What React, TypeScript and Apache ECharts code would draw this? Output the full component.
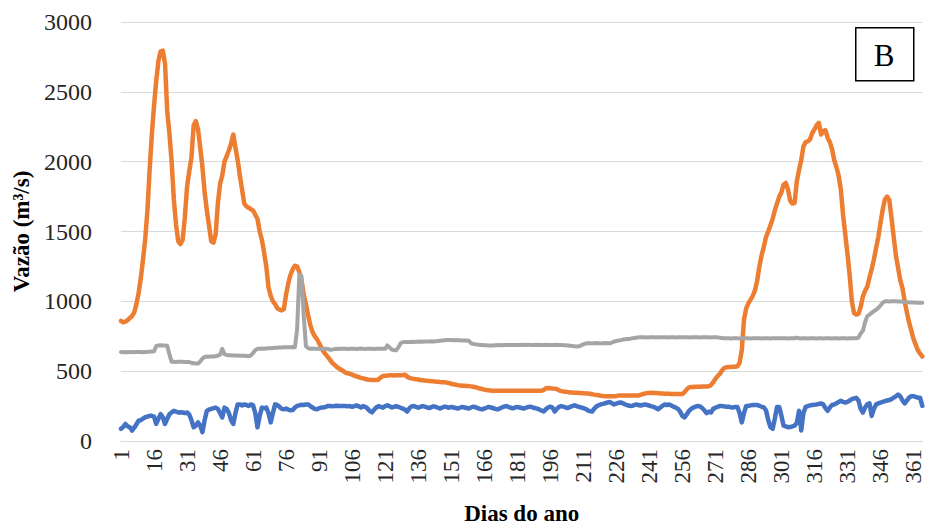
import React, { useEffect, useRef } from "react";
import * as echarts from "echarts";

// Days of the year (1..365)
const days: string[] = Array.from({ length: 365 }, (_, i) => String(i + 1));

const yTicks = [0, 500, 1000, 1500, 2000, 2500, 3000];

// Orange series (m³/s), days 1..365, 15 per row
const orange: number[] = [
  860, 850, 855, 865, 880, 895, 920, 980, 1060, 1166, 1300, 1447, 1650, 1939, 2192,
  2400, 2580, 2720, 2790, 2795, 2700, 2360, 2200, 2000, 1730, 1550, 1430, 1410, 1440, 1600,
  1820, 1930, 2030, 2260, 2290, 2230, 2100, 1960, 1780, 1650, 1540, 1430, 1420, 1480, 1700,
  1840, 1900, 2000, 2040, 2080, 2130, 2195, 2100, 2010, 1900, 1800, 1700, 1680, 1670, 1660,
  1650, 1620, 1590, 1500, 1440, 1350, 1250, 1100, 1040, 1000, 980, 950, 940, 935, 945,
  1050, 1130, 1190, 1230, 1255, 1250, 1210, 1150, 1050, 980, 900, 830, 780, 750, 730,
  700, 670, 640, 620, 600, 580, 560, 545, 530, 520, 510, 500, 490, 485, 480,
  475, 468, 462, 458, 452, 448, 444, 440, 438, 437, 436, 437, 440, 455, 465,
  468, 468, 470, 470, 469, 470, 471, 470, 472, 475, 460, 452, 448, 445, 442,
  440, 437, 435, 433, 432, 430, 428, 427, 425, 424, 422, 421, 420, 418, 415,
  410, 406, 403, 400, 398, 396, 395, 394, 393, 391, 388, 385, 380, 376, 372,
  368, 365, 363, 361, 360, 360, 360, 359, 360, 360, 360, 359, 360, 360, 360,
  360, 360, 360, 360, 360, 360, 360, 360, 360, 360, 360, 360, 365, 378, 380,
  378, 376, 375, 372, 362, 357, 355, 352, 350, 348, 347, 346, 345, 344, 343,
  342, 341, 340, 338, 335, 332, 330, 327, 324, 322, 321, 320, 320, 321, 321,
  322, 325, 325, 325, 325, 325, 325, 325, 325, 325, 325, 330, 335, 340, 343,
  344, 345, 344, 343, 342, 340, 340, 339, 338, 338, 337, 337, 337, 337, 337,
  337, 350, 370, 384, 386, 387, 388, 388, 389, 390, 390, 391, 392, 400, 420,
  445, 465, 480, 505, 522, 528, 530, 530, 531, 532, 535, 560, 650, 870, 950,
  985, 1012, 1040, 1080, 1150, 1250, 1330, 1390, 1460, 1500, 1545, 1590, 1650, 1700, 1750,
  1780, 1835, 1848, 1800, 1720, 1700, 1705, 1860, 1940, 2010, 2110, 2140, 2145, 2160, 2206,
  2230, 2260, 2278, 2195, 2220, 2225, 2170, 2140, 2090, 2010, 1960, 1900, 1800, 1620, 1480,
  1340, 1187, 1000, 915, 905, 910, 960, 1035, 1075, 1105, 1170, 1230, 1300, 1380, 1460,
  1560, 1656, 1730, 1750, 1726, 1600, 1460, 1330, 1240, 1150, 1094, 1000, 920, 850, 790,
  730, 690, 650, 625, 605,
];

// Gray series (m³/s)
const gray: number[] = [
  637, 635, 637, 636, 638, 637, 636, 637, 638, 637, 636, 637, 638, 640, 640,
  642, 680, 684, 686, 684, 683, 682, 620, 567, 567, 566, 567, 568, 567, 566,
  566, 565, 560, 556, 555, 555, 570, 590, 602, 605, 604, 606, 605, 607, 612,
  618, 660, 622, 616, 614, 614, 613, 612, 612, 611, 610, 610, 609, 608, 612,
  630, 650, 660, 661, 662, 660, 663, 665, 664, 666, 668, 667, 669, 670, 671,
  672, 671, 672, 673, 672, 800, 1190, 1180, 900, 680, 665, 660, 662, 661, 660,
  660, 658, 660, 661, 659, 653, 655, 658, 660, 659, 660, 661, 660, 659, 660,
  660, 661, 659, 660, 662, 660, 659, 661, 660, 660, 659, 661, 660, 661, 660,
  660, 684, 670, 655, 650, 649, 670, 700, 707, 708, 709, 708, 710, 709, 710,
  711, 712, 711, 713, 712, 713, 714, 713, 714, 716, 718, 720, 722, 723, 723,
  723, 722, 723, 721, 722, 720, 719, 719, 718, 700, 695, 692, 690, 688, 687,
  686, 685, 684, 684, 684, 685, 686, 687, 686, 688, 687, 688, 688, 687, 688,
  688, 687, 688, 689, 688, 690, 688, 687, 688, 689, 688, 687, 688, 689, 688,
  688, 687, 688, 689, 688, 687, 686, 686, 684, 682, 680, 678, 677, 678, 685,
  692, 698, 700, 700, 699, 700, 701, 700, 699, 700, 701, 700, 700, 705, 712,
  716, 719, 722, 726, 728, 730, 731, 735, 738, 740, 742, 742, 743, 742, 741,
  742, 743, 742, 741, 742, 743, 742, 742, 741, 742, 743, 742, 741, 742, 742,
  742, 743, 742, 741, 742, 742, 743, 742, 741, 742, 742, 743, 742, 741, 742,
  742, 742, 740, 738, 736, 735, 735, 734, 735, 736, 735, 734, 735, 736, 735,
  735, 734, 735, 736, 735, 735, 734, 735, 736, 735, 734, 735, 735, 736, 735,
  735, 736, 735, 734, 735, 735, 736, 740, 735, 734, 735, 735, 734, 735, 736,
  735, 734, 735, 735, 734, 735, 736, 735, 734, 735, 735, 734, 735, 736, 735,
  734, 735, 735, 735, 736, 740, 770, 789, 850, 894, 905, 918, 930, 940, 953,
  970, 990, 1000, 1000, 999, 1000, 1001, 1000, 999, 998, 997, 995, 994, 993, 992,
  992, 991, 990, 990, 990,
];

// Blue series (m³/s)
const blue: number[] = [
  87, 100, 122, 105, 98, 75, 95, 120, 145, 150, 160, 170, 175, 180, 180,
  175, 122, 160, 192, 170, 122, 160, 192, 205, 216, 210, 204, 206, 204, 200,
  204, 190, 150, 98, 110, 133, 110, 63, 150, 216, 225, 230, 235, 239, 230,
  200, 169, 239, 230, 200, 150, 122, 200, 262, 262, 255, 262, 258, 250, 262,
  255, 200, 98, 180, 239, 235, 239, 200, 133, 200, 262, 258, 245, 230, 227,
  232, 225, 220, 222, 240, 251, 255, 260, 258, 262, 262, 250, 240, 230, 227,
  235, 239, 240, 245, 251, 251, 248, 250, 252, 251, 250, 251, 250, 248, 250,
  245, 250, 255, 248, 240, 250, 245, 232, 215, 205, 225, 240, 250, 245, 238,
  250, 256, 248, 240, 245, 250, 244, 238, 232, 225, 211, 235, 248, 250, 244,
  238, 245, 250, 246, 240, 236, 242, 248, 244, 238, 232, 240, 246, 243, 238,
  244, 240, 236, 232, 238, 244, 240, 236, 232, 240, 246, 242, 236, 230, 226,
  232, 238, 244, 240, 236, 230, 226, 232, 240, 246, 250, 244, 238, 234, 240,
  244, 240, 236, 232, 238, 244, 246, 240, 236, 232, 226, 218, 211, 228, 240,
  246, 240, 211, 230, 244, 250, 246, 240, 236, 244, 250, 256, 250, 244, 240,
  236, 230, 220, 214, 211, 232, 248, 256, 262, 266, 270, 276, 279, 270, 262,
  268, 274, 276, 270, 262, 256, 252, 251, 256, 262, 258, 254, 258, 262, 258,
  254, 248, 244, 236, 227, 240, 252, 262, 258, 262, 254, 246, 239, 230, 210,
  180, 169, 190, 216, 230, 240, 246, 251, 248, 236, 220, 200, 210, 204, 230,
  238, 245, 251, 251, 248, 245, 245, 242, 240, 244, 244, 200, 133, 200, 251,
  251, 255, 258, 258, 258, 252, 245, 240, 220, 150, 100, 87, 160, 244, 244,
  180, 110, 105, 98, 100, 105, 110, 130, 216, 75, 200, 244, 250, 255, 258,
  260, 262, 265, 269, 262, 235, 216, 240, 258, 262, 270, 280, 288, 280, 275,
  280, 290, 300, 305, 309, 290, 230, 204, 240, 262, 269, 180, 230, 262, 269,
  275, 280, 285, 290, 293, 300, 310, 320, 332, 320, 290, 269, 290, 310, 321,
  321, 315, 310, 309, 251,
];

const FONT = "Liberation Serif";

export default function App() {
  const ref = useRef<HTMLDivElement>(null);

  useEffect(() => {
    if (!ref.current) return;
    const chart = echarts.init(ref.current, null, { renderer: "svg" });
    const line = (name: string, data: number[], color: string, width: number) => ({
      name,
      type: "line",
      data,
      showSymbol: false,
      symbol: "none",
      smooth: false,
      lineStyle: { color, width, cap: "round", join: "round" },
      itemStyle: { color },
    });
    chart.setOption({
      animation: false,
      backgroundColor: "#ffffff",
      textStyle: { fontFamily: FONT },
      grid: { left: 121, right: 1, top: 22, bottom: 81, containLabel: false },
      xAxis: {
        type: "category",
        data: days,
        boundaryGap: false,
        name: "Dias do ano",
        nameLocation: "middle",
        nameGap: 61,
        nameTextStyle: { fontFamily: FONT, fontSize: 23, fontWeight: "bold", color: "#000" },
        axisLine: { show: true, lineStyle: { color: "#d9d9d9", width: 1 } },
        axisTick: { show: false },
        axisLabel: {
          interval: 14,
          rotate: 90,
          margin: 8,
          fontFamily: FONT,
          fontSize: 23,
          color: "#262626",
        },
        splitLine: { show: false },
      },
      yAxis: {
        type: "value",
        min: yTicks[0],
        max: yTicks[yTicks.length - 1],
        interval: 500,
        name: "Vazão (m³/s)",
        nameLocation: "middle",
        nameGap: 86,
        nameRotate: 90,
        nameTextStyle: { fontFamily: FONT, fontSize: 23, fontWeight: "bold", color: "#000" },
        axisLine: { show: false },
        axisTick: { show: false },
        axisLabel: {
          margin: 29,
          fontFamily: FONT,
          fontSize: 24,
          color: "#262626",
          formatter: (v: number) => String(v),
        },
        splitLine: { show: true, lineStyle: { color: "#d9d9d9", width: 1 } },
      },
      series: [
        line("Azul", blue, "#4472C4", 4.5),
        line("Laranja", orange, "#ED7D31", 4.5),
        line("Cinza", gray, "#A5A5A5", 4),
      ],
      graphic: [
        {
          type: "rect",
          left: 855,
          top: 27,
          shape: { width: 58, height: 53 },
          style: { fill: "#fff", stroke: "#000", lineWidth: 1.5 },
          z: 100,
        },
        {
          type: "text",
          x: 884,
          y: 55,
          style: {
            text: "B",
            fontFamily: FONT,
            fontSize: 31,
            fill: "#000",
            align: "center",
            verticalAlign: "middle",
          },
          z: 101,
        },
      ],
    });
    return () => chart.dispose();
  }, []);

  return (
    <div
      ref={ref}
      style={{ position: "fixed", left: 0, top: 0, width: 925, height: 530, background: "#fff" }}
    />
  );
}
